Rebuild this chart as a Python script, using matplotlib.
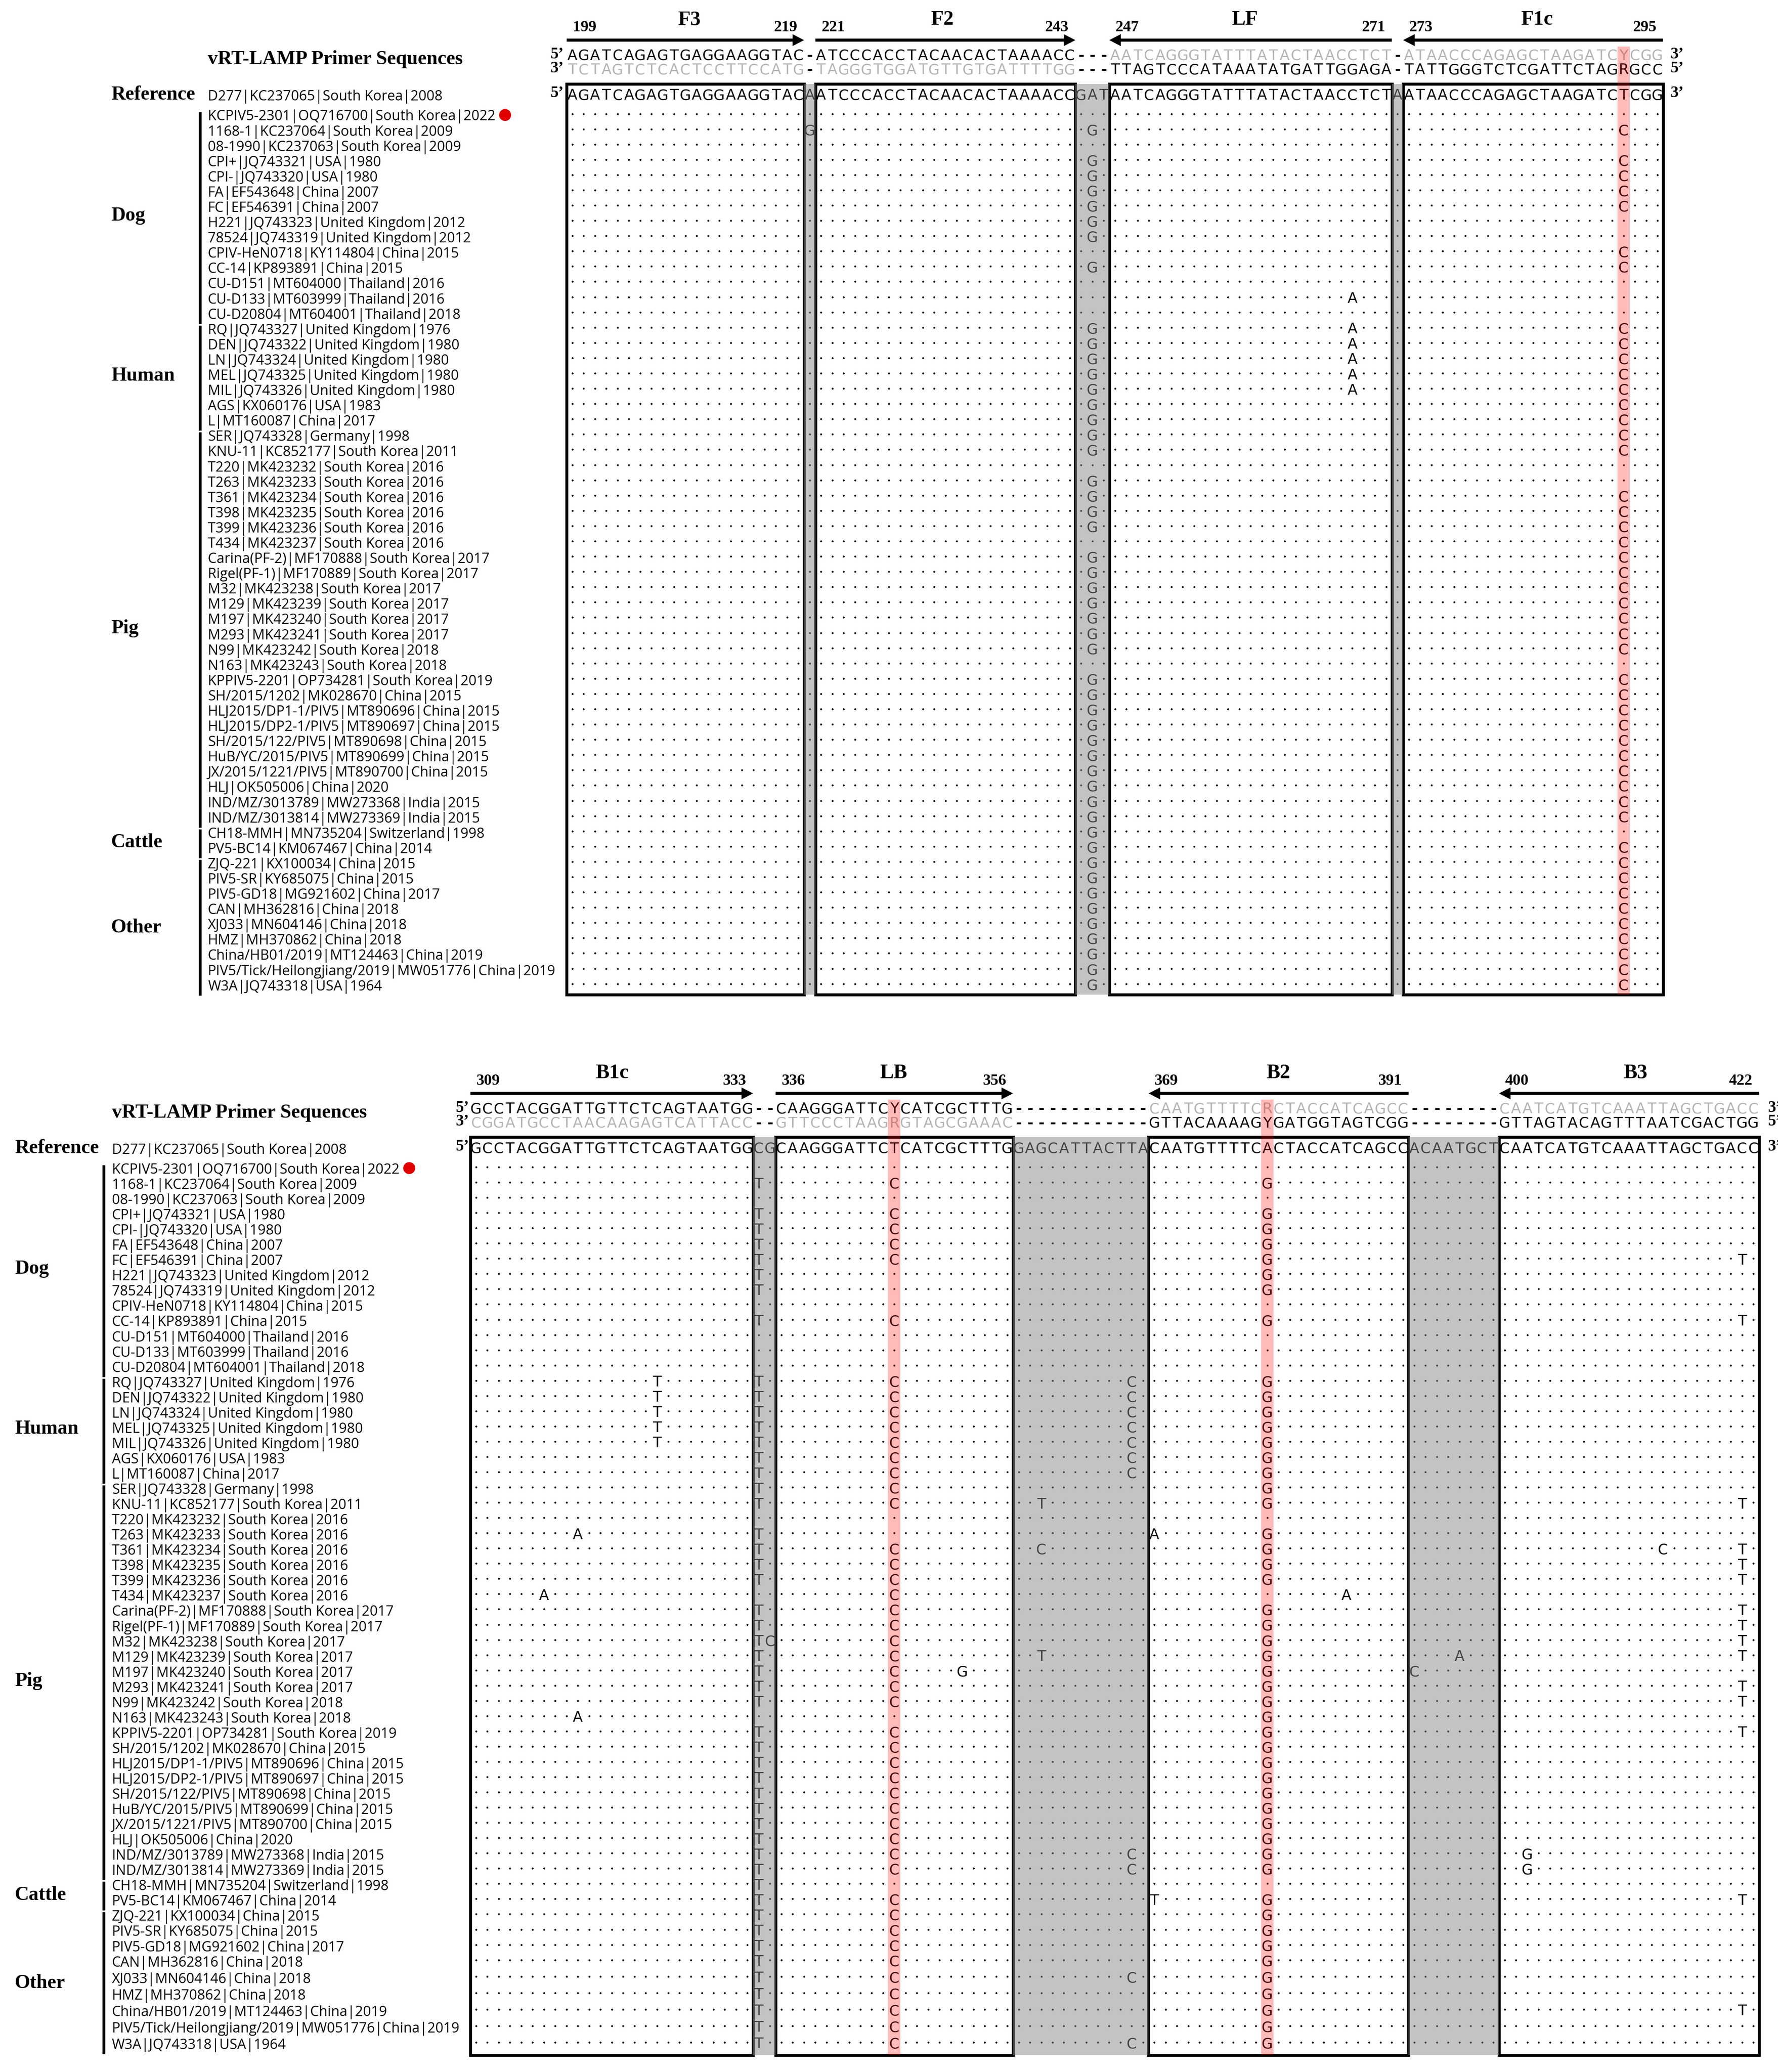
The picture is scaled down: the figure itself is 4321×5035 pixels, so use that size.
#!/usr/bin/env python3
# vRT-LAMP primer alignment figure, two panels (pos 199-295 and 309-422)
import numpy as np
import matplotlib.pyplot as plt
from matplotlib.patches import FancyArrow, Rectangle

reference_strain = "D277|KC237065|South Korea|2008"
strains = [
    "KCPIV5-2301|OQ716700|South Korea|2022", "1168-1|KC237064|South Korea|2009",
    "08-1990|KC237063|South Korea|2009", "CPI+|JQ743321|USA|1980", "CPI-|JQ743320|USA|1980",
    "FA|EF543648|China|2007", "FC|EF546391|China|2007", "H221|JQ743323|United Kingdom|2012",
    "78524|JQ743319|United Kingdom|2012", "CPIV-HeN0718|KY114804|China|2015",
    "CC-14|KP893891|China|2015", "CU-D151|MT604000|Thailand|2016",
    "CU-D133|MT603999|Thailand|2016", "CU-D20804|MT604001|Thailand|2018",
    "RQ|JQ743327|United Kingdom|1976", "DEN|JQ743322|United Kingdom|1980",
    "LN|JQ743324|United Kingdom|1980", "MEL|JQ743325|United Kingdom|1980",
    "MIL|JQ743326|United Kingdom|1980", "AGS|KX060176|USA|1983", "L|MT160087|China|2017",
    "SER|JQ743328|Germany|1998", "KNU-11|KC852177|South Korea|2011",
    "T220|MK423232|South Korea|2016", "T263|MK423233|South Korea|2016",
    "T361|MK423234|South Korea|2016", "T398|MK423235|South Korea|2016",
    "T399|MK423236|South Korea|2016", "T434|MK423237|South Korea|2016",
    "Carina(PF-2)|MF170888|South Korea|2017", "Rigel(PF-1)|MF170889|South Korea|2017",
    "M32|MK423238|South Korea|2017", "M129|MK423239|South Korea|2017",
    "M197|MK423240|South Korea|2017", "M293|MK423241|South Korea|2017",
    "N99|MK423242|South Korea|2018", "N163|MK423243|South Korea|2018",
    "KPPIV5-2201|OP734281|South Korea|2019", "SH/2015/1202|MK028670|China|2015",
    "HLJ2015/DP1-1/PIV5|MT890696|China|2015", "HLJ2015/DP2-1/PIV5|MT890697|China|2015",
    "SH/2015/122/PIV5|MT890698|China|2015", "HuB/YC/2015/PIV5|MT890699|China|2015",
    "JX/2015/1221/PIV5|MT890700|China|2015", "HLJ|OK505006|China|2020",
    "IND/MZ/3013789|MW273368|India|2015", "IND/MZ/3013814|MW273369|India|2015",
    "CH18-MMH|MN735204|Switzerland|1998", "PV5-BC14|KM067467|China|2014",
    "ZJQ-221|KX100034|China|2015", "PIV5-SR|KY685075|China|2015",
    "PIV5-GD18|MG921602|China|2017", "CAN|MH362816|China|2018", "XJ033|MN604146|China|2018",
    "HMZ|MH370862|China|2018", "China/HB01/2019|MT124463|China|2019",
    "PIV5/Tick/Heilongjiang/2019|MW051776|China|2019", "W3A|JQ743318|USA|1964",
]
group_names = ["Dog", "Human", "Pig", "Cattle", "Other"]
group_first = [0, 14, 21, 47, 49]
group_last = [13, 20, 46, 48, 57]

# top panel sequences
top_first_pos = 199
top_ref = "AGATCAGAGTGAGGAAGGTACAATCCCACCTACAACACTAAAACCGATAATCAGGGTATTTATACTAACCTCTAATAACCCAGAGCTAAGATCTCGG"
top_sense = "AGATCAGAGTGAGGAAGGTAC-ATCCCACCTACAACACTAAAACC---AATCAGGGTATTTATACTAACCTCT-ATAACCCAGAGCTAAGATCYCGG"
top_anti = "TCTAGTCTCACTCCTTCCATG-TAGGGTGGATGTTGTGATTTTGG---TTAGTCCCATAAATATGATTGGAGA-TATTGGGTCTCGATTCTAGRGCC"
top_names = ["F3", "F2", "LF", "F1c"]
top_starts = [199, 221, 247, 273]
top_ends = [219, 243, 271, 295]
top_forward = [True, True, False, False]
top_red_pos = [292]

# bottom panel sequences
bot_first_pos = 309
bot_ref = "GCCTACGGATTGTTCTCAGTAATGGCGCAAGGGATTCTCATCGCTTTGGAGCATTACTTACAATGTTTTCACTACCATCAGCCACAATGCTCAATCATGTCAAATTAGCTGACC"
bot_sense = "GCCTACGGATTGTTCTCAGTAATGG--CAAGGGATTCYCATCGCTTTG------------CAATGTTTTCRCTACCATCAGCC--------CAATCATGTCAAATTAGCTGACC"
bot_anti = "CGGATGCCTAACAAGAGTCATTACC--GTTCCCTAAGRGTAGCGAAAC------------GTTACAAAAGYGATGGTAGTCGG--------GTTAGTACAGTTTAATCGACTGG"
bot_names = ["B1c", "LB", "B2", "B3"]
bot_starts = [309, 336, 369, 400]
bot_ends = [333, 356, 391, 422]
bot_forward = [True, True, False, False]
bot_red_pos = [346, 379]

# substitutions: (position, base, row numbers in strains)
c_rows_top = [1, 3, 4, 5, 6, 9, 10] + list(range(14, 23)) + list(range(25, 36)) + list(range(37, 47)) + list(range(48, 58))
g_rows_top = [1, 3, 4, 5, 6, 7, 8, 10] + list(range(14, 23)) + list(range(24, 28)) + list(range(29, 36)) + list(range(37, 58))
top_subs = [
    (220, "G", [1]),
    (245, "G", g_rows_top),
    (268, "A", [12, 14, 15, 16, 17, 18]),
    (292, "C", c_rows_top),
]
t_rows_bot = [1, 3, 4, 5, 6, 7, 8, 10] + list(range(14, 23)) + [24, 25, 26, 27] + list(range(29, 36)) + list(range(37, 58))
c_rows_bot = [1, 3, 4, 5, 6, 10] + list(range(14, 23)) + list(range(25, 36)) + list(range(37, 47)) + list(range(48, 58))
g_rows_bot = [1, 3, 4, 5, 6, 7, 8, 10] + list(range(14, 23)) + [24, 25, 26, 27] + list(range(29, 47)) + list(range(48, 58))
bot_subs = [
    (315, "A", [28]),
    (318, "A", [24, 36]),
    (325, "T", [14, 15, 16, 17, 18]),
    (334, "T", t_rows_bot),
    (335, "C", [31]),
    (346, "C", c_rows_bot),
    (352, "G", [33]),
    (359, "T", [22, 32]),
    (359, "C", [25]),
    (367, "C", [14, 15, 16, 17, 18, 19, 20, 45, 46, 53, 57]),
    (369, "A", [24]),
    (369, "T", [48]),
    (379, "G", g_rows_bot),
    (386, "A", [28]),
    (392, "C", [33]),
    (396, "A", [32]),
    (402, "G", [45, 46]),
    (414, "C", [25]),
    (421, "T", [6, 10, 22, 25, 26, 27, 29, 30, 31, 32, 34, 35, 37, 48, 55]),
]

SERIF = "Liberation Serif"
SANS = "Open Sans"
SEQ = "DejaVu Sans"
PITCH = 27.47
GREY_TXT = "#b4b4b4"
GROUP_NUDGE = [4, 4, 6, 7, 10]

fig = plt.figure(figsize=(43.21, 50.35), dpi=100)
ax = fig.add_axes([0, 0, 1, 1])
ax.set_xlim(0, 4321)
ax.set_ylim(5035, 0)
ax.axis("off")


def draw_panel(first_pos, ref, sense, anti, names, starts, ends, forward, red_pos, subs,
               x0, rows_y, label_x, name_x, bar_x, dot_x, right_x, bottom_pad, title_dx):
    y0 = rows_y[0]
    bottom = rows_y[-1] + bottom_pad
    n_cols = len(ref)
    xs = x0 + PITCH * np.arange(n_cols)

    # dots for every cell that has no substitution
    taken = set()
    for pos, base, rows in subs:
        for r in rows:
            taken.add((r, pos - first_pos))
            ax.text(xs[pos - first_pos], rows_y[r] + 14.5, base, family=SEQ, fontsize=25.5,
                    ha="center", va="baseline", color="black", zorder=2)
    dot_xs, dot_ys = [], []
    for r in range(len(rows_y)):
        for c in range(n_cols):
            if (r, c) not in taken:
                dot_xs.append(xs[c])
                dot_ys.append(rows_y[r])
    ax.scatter(dot_xs, dot_ys, s=11, c="black", linewidths=0, zorder=2)

    # reference row and the two primer rows
    for c in range(n_cols):
        ax.text(xs[c], y0 - 34, ref[c], family=SEQ, fontsize=25.5, ha="center", va="baseline", zorder=2)

    for i, name in enumerate(names):
        c0 = starts[i] - first_pos
        c1 = ends[i] - first_pos
        left = x0 + PITCH * (c0 - 0.5)
        right = x0 + PITCH * (c1 + 0.5)
        sense_col = "black" if forward[i] else GREY_TXT
        anti_col = GREY_TXT if forward[i] else "black"
        for c in range(c0, c1 + 1):
            ax.text(xs[c], y0 - 131, sense[c], family=SEQ, fontsize=25.5, ha="center", va="baseline", color=sense_col, zorder=2)
            ax.text(xs[c], y0 - 96, anti[c], family=SEQ, fontsize=25.5, ha="center", va="baseline", color=anti_col, zorder=2)

        # dashes between the primer blocks
        if i + 1 < len(names):
            for c in range(c1 + 1, starts[i + 1] - first_pos):
                ax.text(xs[c], y0 - 131, "-", family=SEQ, fontsize=25.5, weight="bold", ha="center", va="baseline", zorder=2)
                ax.text(xs[c], y0 - 96, "-", family=SEQ, fontsize=25.5, weight="bold", ha="center", va="baseline", zorder=2)
            # grey band between boxes
            gap_right = x0 + PITCH * (starts[i + 1] - first_pos - 0.5)
            ax.add_patch(Rectangle((right, y0 - 73), gap_right - right, bottom - y0 + 73,
                                   facecolor="#888888", alpha=0.5, linewidth=0, zorder=4))

        # box
        ax.add_patch(Rectangle((left, y0 - 73), right - left, bottom - y0 + 73, fill=False,
                               edgecolor="black", linewidth=5.2, zorder=3))

        # arrow above the block
        if forward[i]:
            ax.add_patch(FancyArrow(left, y0 - 179, right - left, 0, width=7.5, head_width=29, head_length=28,
                                    length_includes_head=True, color="black", linewidth=0))
        else:
            ax.add_patch(FancyArrow(right, y0 - 179, left - right, 0, width=7.5, head_width=29, head_length=28,
                                    length_includes_head=True, color="black", linewidth=0))
        ax.text((left + right) / 2 + title_dx[i], y0 - 216, name, family=SERIF, weight="bold", fontsize=36,
                ha="center", va="baseline")
        ax.text(left + 43, y0 - 200, str(starts[i]), family=SERIF, weight="bold", fontsize=27.5, ha="center", va="baseline")
        ax.text(right - 45, y0 - 200, str(ends[i]), family=SERIF, weight="bold", fontsize=27.5, ha="center", va="baseline")

    # red highlighted columns
    for pos in red_pos:
        cx = xs[pos - first_pos]
        ax.add_patch(Rectangle((cx - 15, y0 - 164), 30, bottom - y0 + 164, facecolor="#ff0000",
                               alpha=0.27, linewidth=0, zorder=5))

    # 5'/3' marks
    ax.text(dot_x, y0 - 134, "5\u2019", family=SERIF, weight="bold", fontsize=28, ha="left", va="baseline")
    ax.text(dot_x, y0 - 101, "3\u2019", family=SERIF, weight="bold", fontsize=28, ha="left", va="baseline")
    ax.text(dot_x, y0 - 40, "5\u2019", family=SERIF, weight="bold", fontsize=28, ha="left", va="baseline")
    ax.text(right_x, y0 - 134, "3\u2019", family=SERIF, weight="bold", fontsize=28, ha="left", va="baseline")
    ax.text(right_x, y0 - 101, "5\u2019", family=SERIF, weight="bold", fontsize=28, ha="left", va="baseline")
    ax.text(right_x, y0 - 40, "3\u2019", family=SERIF, weight="bold", fontsize=28, ha="left", va="baseline")

    # left hand labels
    ax.text(label_x, y0 - 120, "vRT-LAMP Primer Sequences", family=SERIF, weight="bold", fontsize=34.6, ha="left", va="baseline")
    ax.text(name_x, y0 - 34, "Reference", family=SERIF, weight="bold", fontsize=34.6, ha="left", va="baseline")
    ax.text(label_x, y0 - 32, reference_strain, family=SANS, fontsize=24.5, ha="left", va="baseline")
    for r, s in enumerate(strains):
        ax.text(label_x, rows_y[r] + 16, s, family=SANS, fontsize=24.5, ha="left", va="baseline")
    ax.scatter([label_x + 722], [y0 + 2], s=436, c="#e00000", linewidths=0, zorder=3)

    for g, name in enumerate(group_names):
        f, l = group_first[g], group_last[g]
        ax.plot([bar_x, bar_x], [rows_y[f] - 5, rows_y[l] + 28], color="black", linewidth=5, solid_capstyle="butt")
        ax.text(name_x, (rows_y[f] + rows_y[l]) / 2 + 14 + GROUP_NUDGE[g], name, family=SERIF, weight="bold", fontsize=34.6, ha="left", va="baseline")


top_rows = 276.5 + 37.09 * np.arange(len(strains))
# the last rows of the lower panel sit a bit further apart
bot_rows = 2836 + 37.05 * np.arange(len(strains))
bot_rows[53:] = bot_rows[52] + 40 * np.arange(1, 6)

draw_panel(top_first_pos, top_ref, top_sense, top_anti, top_names, top_starts, top_ends, top_forward,
           top_red_pos, top_subs, 1391, top_rows, 505, 270, 486, 1337, 4059, 26.5, [9, -8, -14, 9])
draw_panel(bot_first_pos, bot_ref, bot_sense, bot_anti, bot_names, bot_starts, bot_ends, bot_forward,
           bot_red_pos, bot_subs, 1157, bot_rows, 272, 36, 252, 1107, 4296, 31, [1, -2, -1, 15])

fig.savefig("out.png", dpi=100, facecolor="white")
